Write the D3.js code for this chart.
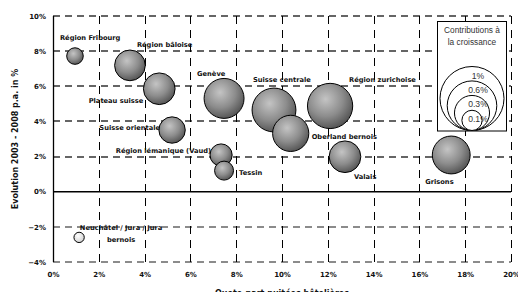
<!DOCTYPE html>
<html><head><meta charset="utf-8">
<script src="https://cdn.jsdelivr.net/npm/d3@7"></script>
<style>body{margin:0;background:#fff}svg{display:block}</style>
</head><body>
<svg id="c" width="518" height="292"></svg>
<script>
const regions = ["Région Fribourg","Région bâloise","Plateau suisse","Suisse orientale","Genève","Suisse centrale","Région zurichoise","Oberland bernois","Région lémanique (Vaud)","Tessin","Valais","Grisons","Neuchâtel / Jura / Jura bernois"];
const share = [0.0096,0.0336,0.0464,0.052,0.0747,0.0965,0.121,0.1038,0.0734,0.0747,0.1275,0.1739,0.0114];
const growth = [0.0772,0.0719,0.0586,0.0351,0.0531,0.0465,0.0488,0.0332,0.0209,0.012,0.0199,0.0209,-0.026];
const contribution = [0.067,0.23,0.245,0.17,0.39,0.47,0.5,0.32,0.12,0.088,0.245,0.35,0.026];
const legendValues = [1,0.6,0.3,0.1];
const legendLabels = ["1%","0.6%","0.3%","0.1%"];
const xTicks = [0,0.02,0.04,0.06,0.08,0.10,0.12,0.14,0.16,0.18,0.20];
const yTicks = [-0.04,-0.02,0,0.02,0.04,0.06,0.08,0.10];

// label layout (pixel offsets from bubble centre)
const labelLayout = [
  {dx:-15,dy:-18,a:"start"},{dx:7,dy:-21,a:"start"},{dx:-16,dy:12,a:"end"},{dx:-12,dy:-2,a:"end"},
  {dx:-27,dy:-25,a:"start"},{dx:-21,dy:-30,a:"start"},{dx:19,dy:-26,a:"start"},{dx:21,dy:3,a:"start"},
  {dx:-10,dy:-4,a:"end"},{dx:15,dy:2,a:"start"},{dx:9,dy:20,a:"start"},{dx:-26,dy:27,a:"start"},
  {dx:42,dy:-10,a:"middle",lines:["Neuchâtel / Jura / Jura","bernois"]}
];

const svg = d3.select("#c");
const x = d3.scaleLinear().domain([0,0.2]).range([53,511]);
const y = d3.scaleLinear().domain([-0.04,0.10]).range([262,16]);
const r = d3.scaleSqrt().domain([0,1]).range([0,32]);
const bold = "'DejaVu Sans', Verdana, sans-serif";

const defs = svg.append("defs");
const g1 = defs.append("radialGradient").attr("id","gGray").attr("cx","40%").attr("cy","35%").attr("r","70%");
g1.append("stop").attr("offset","0%").attr("stop-color","#c4c4c4");
g1.append("stop").attr("offset","55%").attr("stop-color","#8c8c8c");
g1.append("stop").attr("offset","100%").attr("stop-color","#4e4e4e");
const g2 = defs.append("radialGradient").attr("id","gWhite").attr("cx","40%").attr("cy","35%").attr("r","70%");
g2.append("stop").attr("offset","0%").attr("stop-color","#ffffff");
g2.append("stop").attr("offset","100%").attr("stop-color","#cfcfcf");

// grid
svg.append("g").selectAll("line").data(yTicks.filter(d=>d!==0)).join("line")
  .attr("x1",x(0)).attr("x2",x(0.2)).attr("y1",d=>Math.round(y(d))).attr("y2",d=>Math.round(y(d)))
  .attr("stroke",d=>d>0?"#333":"#666").attr("stroke-width",1.6).attr("stroke-dasharray","7,5");
svg.append("g").selectAll("line").data(xTicks.filter(d=>d!==0)).join("line")
  .attr("y1",y(0.10)).attr("y2",y(-0.04)).attr("x1",d=>Math.round(x(d))+0.5).attr("x2",d=>Math.round(x(d))+0.5)
  .attr("stroke","#000").attr("stroke-width",1).attr("stroke-dasharray","8,6");
// axes lines
svg.append("line").attr("x1",Math.round(x(0))+0.5).attr("x2",Math.round(x(0))+0.5).attr("y1",y(0.10)).attr("y2",y(-0.04)).attr("stroke","#000").attr("stroke-width",1.3);
svg.append("line").attr("x1",x(0)).attr("x2",x(0.2)).attr("y1",y(0)).attr("y2",y(0)).attr("stroke","#000").attr("stroke-width",1.5);

// tick labels via axes
const fmt = d3.format(".0%");
const ax = svg.append("g").attr("transform",`translate(0,${y(-0.04)})`)
  .call(d3.axisBottom(x).tickValues(xTicks).tickFormat(fmt).tickSize(0).tickPadding(10));
const ay = svg.append("g").attr("transform",`translate(${x(0)},0)`)
  .call(d3.axisLeft(y).tickValues(yTicks).tickFormat(fmt).tickSize(0).tickPadding(7));
[ax,ay].forEach(a=>{a.select(".domain").remove();a.selectAll("text").attr("font-family",bold).attr("font-weight","bold").attr("font-size",7).attr("fill","#111");});

// axis titles
svg.append("text").attr("x",(x(0)+x(0.2))/2).attr("y",296).attr("text-anchor","middle")
  .attr("font-family",bold).attr("font-weight","bold").attr("font-size",8).attr("fill","#111").text("Quote-part nuitées hôtelières");
svg.append("text").attr("transform",`translate(18,${(y(0.10)+y(-0.04))/2}) rotate(-90)`).attr("text-anchor","middle")
  .attr("font-family",bold).attr("font-weight","bold").attr("font-size",8).attr("fill","#111").text("Evolution 2003 - 2008 p.a. in %");

// bubbles
const idx = d3.range(regions.length);
svg.append("g").selectAll("circle").data(idx).join("circle")
  .attr("cx",i=>x(share[i])).attr("cy",i=>y(growth[i])).attr("r",i=>r(contribution[i]))
  .attr("fill",i=>growth[i]<0?"url(#gWhite)":"url(#gGray)").attr("stroke","#000").attr("stroke-width",1);

// labels
const lg = svg.append("g").attr("font-family",bold).attr("font-weight","bold").attr("font-size",6.7).attr("fill","#111");
idx.forEach(i=>{
  const L = labelLayout[i];
  const cx = x(share[i]), cy = y(growth[i]);
  const lines = L.lines || [regions[i]];
  lines.forEach((t,k)=>{
    lg.append("text").attr("x",cx+L.dx).attr("y",cy+L.dy+k*12).attr("dy","0.35em").attr("text-anchor",L.a).text(t);
  });
});

// legend
const lgd = svg.append("g");
lgd.append("rect").attr("x",437.5).attr("y",21.5).attr("width",69).attr("height",109.5).attr("fill","#fff").attr("stroke","#000").attr("stroke-width",1);
const lf = "'Liberation Sans', Arial, sans-serif";
["Contributions à","la croissance"].forEach((t,k)=>lgd.append("text").attr("x",472).attr("y",30+k*12).attr("dy","0.35em")
  .attr("text-anchor","middle").attr("font-family",lf).attr("font-size",8.3).attr("fill","#333").text(t));
const baseY = 130.5, lcx = 472;
lgd.selectAll("circle").data(legendValues).join("circle")
  .attr("cx",lcx).attr("cy",d=>baseY-r(d)).attr("r",d=>r(d)).attr("fill","#fff").attr("stroke","#000").attr("stroke-width",1);
lgd.selectAll("text.v").data(legendValues).join("text").attr("class","v")
  .attr("x",lcx+6).attr("y",d=>baseY-2*r(d)+9).attr("dy","0.35em").attr("text-anchor","middle")
  .attr("font-family",lf).attr("font-size",8.6).attr("fill","#333").text((d,i)=>legendLabels[i]);
</script>
</body></html>
